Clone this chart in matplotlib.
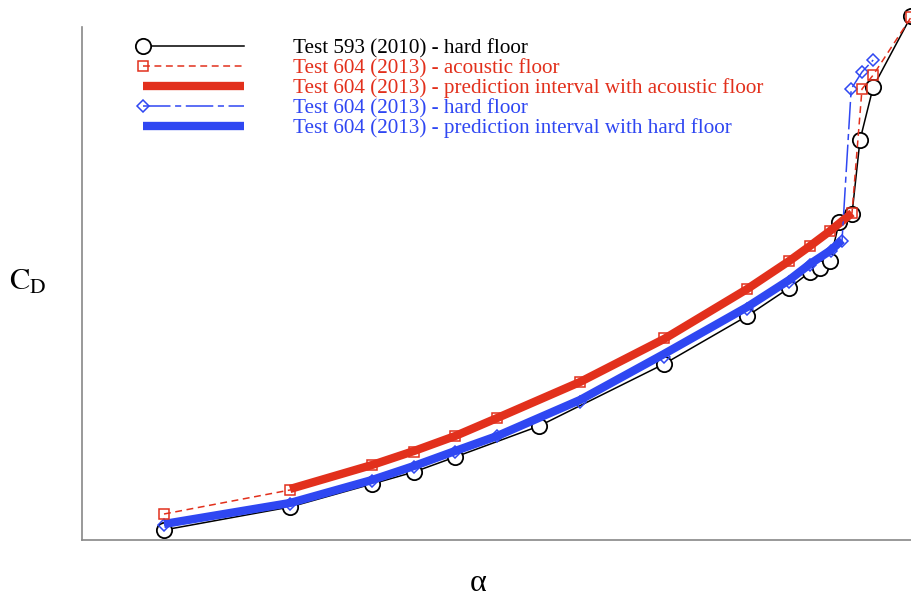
import matplotlib
matplotlib.use("Agg")
import matplotlib.pyplot as plt
from matplotlib.legend_handler import HandlerLine2D

plt.rcParams['font.family'] = ['Liberation Serif', 'DejaVu Serif']
plt.rcParams['mathtext.fontset'] = 'stix'

# Test 593 (2010) - hard floor
a_593 = [2.05, 5.2, 7.25, 8.3, 9.33, 11.43, 14.55, 16.63, 17.68, 18.2, 18.45,
         18.7, 18.93, 19.25, 19.45, 19.78, 20.73]
cd_593 = [0.020, 0.066, 0.112, 0.136, 0.166, 0.228, 0.352, 0.448, 0.504, 0.536,
          0.544, 0.558, 0.636, 0.652, 0.800, 0.906, 1.048]

# Test 604 (2013) - acoustic floor
a_604a = [2.05, 5.2, 7.25, 8.3, 9.33, 10.38, 12.45, 14.55, 16.63, 17.68, 18.2,
          18.7, 19.25, 19.5, 19.78, 20.73]
cd_604a = [0.052, 0.100, 0.150, 0.176, 0.208, 0.244, 0.316, 0.404, 0.502, 0.558,
           0.588, 0.618, 0.654, 0.902, 0.930, 1.046]

# prediction interval, acoustic floor
a_pia = [5.2, 7.25, 8.3, 9.33, 10.38, 12.45, 14.55, 16.63, 17.68, 18.2, 18.7, 19.25]
cd_pia = [0.102, 0.150, 0.178, 0.208, 0.244, 0.316, 0.402, 0.502, 0.558, 0.588,
          0.618, 0.654]

# Test 604 (2013) - hard floor
a_604h = [2.05, 5.2, 7.25, 8.3, 9.33, 10.38, 12.45, 14.55, 16.63, 17.68, 18.2,
          18.73, 19.0, 19.23, 19.5, 19.78]
cd_604h = [0.030, 0.072, 0.118, 0.146, 0.176, 0.208, 0.276, 0.366, 0.462, 0.516,
           0.550, 0.578, 0.598, 0.902, 0.936, 0.960]

# prediction interval, hard floor
a_pih = [2.05, 5.2, 7.25, 8.3, 9.33, 10.38, 12.45, 14.55, 16.63, 17.68, 18.2, 18.73, 19.0]
cd_pih = [0.032, 0.074, 0.120, 0.148, 0.178, 0.208, 0.280, 0.372, 0.466, 0.520,
          0.552, 0.580, 0.600]

red = '#e2301c'
blue = '#2f47f2'


class LeftMarker(HandlerLine2D):
    # marcador só na ponta esquerda da linha da legenda
    def create_artists(self, *args, **kw):
        arts = super().create_artists(*args, **kw)
        for a in arts:
            a.set_markevery([0])
        return arts


fig = plt.figure(figsize=(9.11, 5.99), dpi=100)
ax = fig.add_axes([82/911, 59/599, 829/911, 513/599])

l1, = ax.plot(a_593, cd_593, color='black', lw=1.1, marker='o', ms=11,
              mfc='white', mec='black', mew=1.3, zorder=2, clip_on=False,
              label='Test 593 (2010) - hard floor')
l4, = ax.plot(a_604h, cd_604h, color=blue, lw=1.1, ls=(0, (18, 3, 4, 3)),
              marker='D', ms=6, mfc='none', mec=blue, mew=1.1, zorder=5,
              clip_on=False, label='Test 604 (2013) - hard floor')
l5, = ax.plot(a_pih, cd_pih, color=blue, lw=6, solid_capstyle='butt', zorder=3,
              label='Test 604 (2013) - prediction interval with hard floor')
l3, = ax.plot(a_pia, cd_pia, color=red, lw=6, solid_capstyle='butt', zorder=3,
              label='Test 604 (2013) - prediction interval with acoustic floor')
l2, = ax.plot(a_604a, cd_604a, color=red, lw=1.1, ls=(0, (4.5, 3)), marker='s',
              ms=6.5, mfc='none', mec=red, mew=1.1, zorder=5, clip_on=False,
              label='Test 604 (2013) - acoustic floor')

ax.set_xlim(0, 20.725)
ax.set_ylim(0, 1.026)
ax.set_xticks([])
ax.set_yticks([])
for s in ['top', 'right']:
    ax.spines[s].set_visible(False)
for s in ['left', 'bottom']:
    ax.spines[s].set_color('#888888')
    ax.spines[s].set_linewidth(1.2)

ax.set_ylabel(r'$\mathrm{C_D}$', fontsize=22, rotation=0, va='center', ha='center')
ax.yaxis.set_label_coords(-0.065, 0.503)
ax.set_xlabel('α', fontsize=23, va='center')
ax.xaxis.set_label_coords(0.478, -0.085)

leg = ax.legend(handles=[l1, l2, l3, l4, l5], loc='upper left',
                bbox_to_anchor=(143/911, 1 - 39/599), bbox_transform=fig.transFigure,
                frameon=False, fontsize=15.2, numpoints=1, handlelength=4.8,
                handletextpad=2.3, labelspacing=0.0, borderpad=0, borderaxespad=0,
                labelcolor='linecolor',
                handler_map={l: LeftMarker() for l in [l1, l2, l4]})

fig.savefig('out.png', dpi=100)
